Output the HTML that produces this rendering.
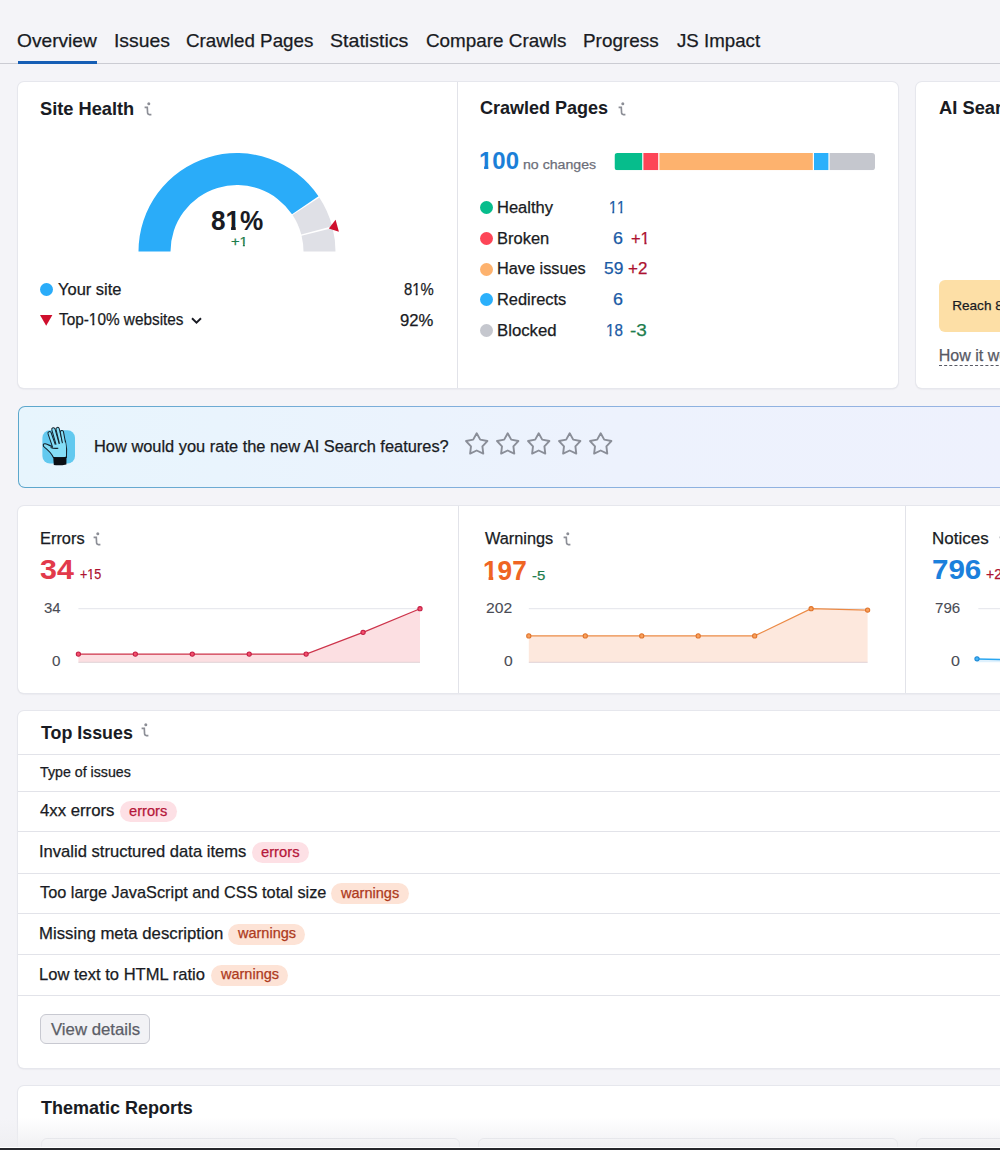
<!DOCTYPE html><html><head><meta charset="utf-8"><style>
*{margin:0;padding:0;box-sizing:border-box}
html,body{width:1000px;height:1150px;overflow:hidden;background:#f4f4f8;font-family:"Liberation Sans",sans-serif;color:#191b23}
.t{position:absolute;white-space:nowrap;line-height:1;-webkit-text-stroke:0.25px currentColor}
.a{position:absolute}
.o1{display:inline-block;clip-path:polygon(0 -1em,100% -1em,100% 0.745em,0.345em 0.745em,0.345em 2em,0.245em 2em,0.245em 0.745em,0 0.745em)}
.o1b{display:inline-block;clip-path:polygon(0 -1em,100% -1em,100% 0.728em,0.376em 0.728em,0.376em 2em,0.227em 2em,0.227em 0.728em,0 0.728em)}
.card{position:absolute;background:#fff;border-radius:6px;box-shadow:0 0 0 1px #e6e7ed,0 1px 2px rgba(25,27,35,.12)}
.hl{position:absolute;height:1px;background:#e2e3e9}
.vl{position:absolute;width:1px;background:#e2e3e9}
.badge{position:absolute;height:21px;border-radius:11px;font-size:14.4px;line-height:21px;text-align:center;white-space:nowrap}
</style></head><body>
<div class="t" style="top:32px;font-size:18.6px;color:#191b23;left:17.10px;transform:scaleX(1.0302);transform-origin:0 0;">Overview</div>
<div class="t" style="top:32px;font-size:18.6px;color:#191b23;left:113.62px;transform:scaleX(1.0395);transform-origin:0 0;">Issues</div>
<div class="t" style="top:32px;font-size:18.6px;color:#191b23;left:186.06px;transform:scaleX(1.0102);transform-origin:0 0;">Crawled Pages</div>
<div class="t" style="top:32px;font-size:18.6px;color:#191b23;left:330.12px;transform:scaleX(1.0533);transform-origin:0 0;">Statistics</div>
<div class="t" style="top:32px;font-size:18.6px;color:#191b23;left:425.66px;transform:scaleX(1.0139);transform-origin:0 0;">Compare Crawls</div>
<div class="t" style="top:32px;font-size:18.6px;color:#191b23;left:583.05px;transform:scaleX(1.0160);transform-origin:0 0;">Progress</div>
<div class="t" style="top:32px;font-size:18.6px;color:#191b23;left:676.72px;transform:scaleX(1.0050);transform-origin:0 0;">JS Impact</div>
<div class="a" style="left:0;top:63px;width:1000px;height:1px;background:#cbccd3"></div>
<div class="a" style="left:18px;top:61px;width:79px;height:3px;background:#155eb5"></div>
<div class="card" style="left:18px;top:82px;width:880px;height:306px"></div>
<div class="vl" style="left:457px;top:82px;height:306px"></div>
<div class="t" style="top:100px;font-size:18.6px;color:#191b23;font-weight:700;-webkit-text-stroke:0.05px currentColor;left:39.79px;transform:scaleX(0.9804);transform-origin:0 0;">Site Health</div>
<svg class="a" style="left:143.5px;top:101.5px" width="9" height="14" viewBox="0 0 9 14"><circle cx="4.8" cy="1.8" r="1.5" fill="#8c8e96"/><path d="M0.6 5.4H3.3L3.6 11.2Q3.8 12.6 5.3 12.6H7.4" fill="none" stroke="#8c8e96" stroke-width="1.65"/></svg>
<svg class="a" style="left:0;top:0" width="460" height="390" viewBox="0 0 460 390"><path d="M138.50 251.60A98.5 98.5 0 0 1 318.47 196.23L292.00 214.22A66.5 66.5 0 0 0 170.50 251.60Z" fill="#2aacf9"/><path d="M319.33 197.52A98.5 98.5 0 0 1 332.17 226.21L301.25 234.46A66.5 66.5 0 0 0 292.58 215.09Z" fill="#dfe0e6"/><path d="M332.63 228.00A98.5 98.5 0 0 1 335.50 251.60L303.50 251.60A66.5 66.5 0 0 0 301.56 235.67Z" fill="#dfe0e6"/><polygon points="328.8,228.6 335.6,219.8 338.9,231.8" fill="#cf0f2d"/></svg>
<div class="t" style="top:206px;font-size:28.5px;color:#191b23;font-weight:700;-webkit-text-stroke:0.05px currentColor;left:211.19px;transform:scaleX(0.9169);transform-origin:0 0;">8<span style="display:inline-block;clip-path:polygon(0 -1em,100% -1em,100% 0.707em,0.39em 0.707em,0.39em 2em,0.212em 2em,0.212em 0.707em,0 0.707em)">1</span>%</div>
<div class="t" style="top:235px;font-size:13px;color:#1d7d4d;left:230.90px;transform:scaleX(1.1253);transform-origin:0 0;">+<span style="display:inline-block;clip-path:polygon(0 -1em,100% -1em,100% 0.698em,0.362em 0.698em,0.362em 2em,0.228em 2em,0.228em 0.698em,0 0.698em)">1</span></div>
<div class="a" style="left:40px;top:283.2px;width:12.9px;height:12.9px;border-radius:50%;background:#2aacf9"></div>
<div class="t" style="top:282px;font-size:16px;color:#191b23;left:57.94px;transform:scaleX(1.0296);transform-origin:0 0;">Your site</div>
<div class="t" style="top:281px;font-size:16.5px;color:#191b23;left:403.86px;transform:scaleX(0.9014);transform-origin:0 0;">8<span style="display:inline-block;clip-path:polygon(0 -1em,100% -1em,100% 0.716em,0.362em 0.716em,0.362em 2em,0.228em 2em,0.228em 0.716em,0 0.716em)">1</span>%</div>
<svg class="a" style="left:40.3px;top:315.1px" width="12.4" height="10.8" viewBox="0 0 12.4 10.8"><polygon points="0,0 12.4,0 6.2,10.8" fill="#cf0f2d"/></svg>
<div class="t" style="top:312px;font-size:16px;color:#191b23;left:58.66px;transform:scaleX(0.9588);transform-origin:0 0;">Top-<span style="display:inline-block;clip-path:polygon(0 -1em,100% -1em,100% 0.678em,0.362em 0.678em,0.362em 2em,0.228em 2em,0.228em 0.678em,0 0.678em)">1</span>0% websites</div>
<svg class="a" style="left:190px;top:314px" width="13" height="12" viewBox="0 0 13 12"><path d="M2 4.2L6.5 8.6L11 4.2" fill="none" stroke="#191b23" stroke-width="1.9"/></svg>
<div class="t" style="top:312px;font-size:16.5px;color:#191b23;left:400.33px;transform:scaleX(1.0101);transform-origin:0 0;">92%</div>
<div class="t" style="top:99px;font-size:18.6px;color:#191b23;font-weight:700;-webkit-text-stroke:0.05px currentColor;left:480.36px;transform:scaleX(0.9686);transform-origin:0 0;">Crawled Pages</div>
<svg class="a" style="left:618.3px;top:101.5px" width="9" height="14" viewBox="0 0 9 14"><circle cx="4.8" cy="1.8" r="1.5" fill="#8c8e96"/><path d="M0.6 5.4H3.3L3.6 11.2Q3.8 12.6 5.3 12.6H7.4" fill="none" stroke="#8c8e96" stroke-width="1.65"/></svg>
<div class="t" style="top:150px;font-size:23.4px;color:#1b7fd8;font-weight:700;-webkit-text-stroke:0.05px currentColor;left:478.87px;transform:scaleX(1.0245);transform-origin:0 0;"><span style="display:inline-block;clip-path:polygon(0 -1em,100% -1em,100% 0.669em,0.39em 0.669em,0.39em 2em,0.212em 2em,0.212em 0.669em,0 0.669em)">1</span>00</div>
<div class="t" style="top:158px;font-size:13.7px;color:#6c6e79;left:523.27px;transform:scaleX(1.0325);transform-origin:0 0;">no changes</div>
<svg class="a" style="left:0;top:0" width="900" height="200" viewBox="0 0 900 200"><clipPath id="bc"><rect x="614.5" y="153" width="260.5" height="17.2" rx="3"/></clipPath><g clip-path="url(#bc)"><rect x="614.5" y="153" width="27.70" height="17.2" fill="#06bd8c"/><rect x="643.4" y="153" width="14.80" height="17.2" fill="#fd4557"/><rect x="659.4" y="153" width="153.40" height="17.2" fill="#fdb26e"/><rect x="814" y="153" width="14.40" height="17.2" fill="#2bb0fb"/><rect x="829.6" y="153" width="45.40" height="17.2" fill="#c5c7ce"/></g></svg>
<div class="a" style="left:480.2px;top:200.90px;width:13px;height:13px;border-radius:50%;background:#06bd8c"></div>
<div class="t" style="top:200px;font-size:15.8px;color:#191b23;left:497.45px;transform:scaleX(1.0450);transform-origin:0 0;">Healthy</div>
<div class="t" style="top:200px;font-size:16.6px;color:#1a5aa5;left:609.41px;transform:scaleX(0.8744);transform-origin:0 0;"><span style="display:inline-block;clip-path:polygon(0 -1em,100% -1em,100% 0.651em,0.362em 0.651em,0.362em 2em,0.228em 2em,0.228em 0.651em,0 0.651em)">1</span><span style="display:inline-block;clip-path:polygon(0 -1em,100% -1em,100% 0.651em,0.362em 0.651em,0.362em 2em,0.228em 2em,0.228em 0.651em,0 0.651em)">1</span></div>
<div class="a" style="left:480.2px;top:231.70px;width:13px;height:13px;border-radius:50%;background:#fd4557"></div>
<div class="t" style="top:231px;font-size:15.8px;color:#191b23;left:497.45px;transform:scaleX(1.0430);transform-origin:0 0;">Broken</div>
<div class="t" style="top:231px;font-size:16.6px;color:#1a5aa5;left:613.20px;transform:scaleX(1.0799);transform-origin:0 0;">6</div>
<div class="t" style="top:231px;font-size:16.6px;color:#ad1230;left:631.01px;transform:scaleX(0.9914);transform-origin:0 0;">+<span style="display:inline-block;clip-path:polygon(0 -1em,100% -1em,100% 0.651em,0.362em 0.651em,0.362em 2em,0.228em 2em,0.228em 0.651em,0 0.651em)">1</span></div>
<div class="a" style="left:480.2px;top:262.50px;width:13px;height:13px;border-radius:50%;background:#fdb26e"></div>
<div class="t" style="top:261px;font-size:15.8px;color:#191b23;left:497.46px;transform:scaleX(1.0309);transform-origin:0 0;">Have issues</div>
<div class="t" style="top:261px;font-size:16.6px;color:#1a5aa5;left:603.91px;transform:scaleX(1.0461);transform-origin:0 0;">59</div>
<div class="t" style="top:261px;font-size:16.6px;color:#ad1230;left:627.68px;transform:scaleX(1.0233);transform-origin:0 0;">+2</div>
<div class="a" style="left:480.2px;top:293.30px;width:13px;height:13px;border-radius:50%;background:#2bb0fb"></div>
<div class="t" style="top:292px;font-size:15.8px;color:#191b23;left:497.45px;transform:scaleX(1.0389);transform-origin:0 0;">Redirects</div>
<div class="t" style="top:292px;font-size:16.6px;color:#1a5aa5;left:613.20px;transform:scaleX(1.0799);transform-origin:0 0;">6</div>
<div class="a" style="left:480.2px;top:324.10px;width:13px;height:13px;border-radius:50%;background:#c5c7ce"></div>
<div class="t" style="top:323px;font-size:15.8px;color:#191b23;left:497.42px;transform:scaleX(1.0613);transform-origin:0 0;">Blocked</div>
<div class="t" style="top:323px;font-size:16.6px;color:#1a5aa5;left:606.14px;transform:scaleX(0.9163);transform-origin:0 0;"><span style="display:inline-block;clip-path:polygon(0 -1em,100% -1em,100% 0.651em,0.362em 0.651em,0.362em 2em,0.228em 2em,0.228em 0.651em,0 0.651em)">1</span>8</div>
<div class="t" style="top:323px;font-size:16.6px;color:#1d7d4d;left:630.17px;transform:scaleX(1.1417);transform-origin:0 0;">-3</div>
<div class="card" style="left:915.5px;top:82px;width:120px;height:306px"></div>
<div class="t" style="top:99px;font-size:18.3px;color:#191b23;font-weight:700;-webkit-text-stroke:0.05px currentColor;left:939.10px;">AI Search</div>
<div class="a" style="left:938.6px;top:280px;width:100px;height:52px;border-radius:6px;background:#fddfa6"></div>
<div class="t" style="top:299px;font-size:13.6px;color:#191b23;left:952.20px;">Reach 80%</div>
<div class="t" style="top:348px;font-size:16px;color:#575964;left:938.80px;">How it works</div>
<div class="a" style="left:938.8px;top:365px;width:70px;height:0;border-top:1px dashed #575964"></div>
<div class="a" style="left:18px;top:406px;width:1000px;height:82px;border:1px solid transparent;border-radius:7px;background:linear-gradient(90deg,#e7f5fd,#edf2fd 60%,#eef1fd) padding-box,linear-gradient(90deg,#5ca7cc,#86b0de 50%,#9ab4e3) border-box"></div>
<svg class="a" style="left:36px;top:422px" width="44" height="46" viewBox="0 0 44 46">
<rect x="6.4" y="8.3" width="32.6" height="33.2" rx="7.5" fill="#62c9ef"/>
<path d="M17.4 35.5 C15.5 31.5 12 28 8.6 25.4 C6.6 24 6.9 21.4 9.2 21.8 C11.6 22.3 14 23.8 16.4 24.6 L16.6 21.5 L29.4 19 L30.6 27 L30.4 35.5 Z" fill="#84def7" stroke="#15222c" stroke-width="1.1" stroke-linejoin="round"/>
<g stroke-linecap="round">
<line x1="13.6" y1="11.3" x2="18" y2="24" stroke="#15222c" stroke-width="4.3"/><line x1="13.6" y1="11.3" x2="18" y2="24" stroke="#84def7" stroke-width="2.3"/>
<line x1="17.4" y1="7.4" x2="21.6" y2="22" stroke="#15222c" stroke-width="4.3"/><line x1="17.4" y1="7.4" x2="21.6" y2="22" stroke="#84def7" stroke-width="2.3"/>
<line x1="21.6" y1="7" x2="25" y2="21" stroke="#15222c" stroke-width="4.3"/><line x1="21.6" y1="7" x2="25" y2="21" stroke="#84def7" stroke-width="2.3"/>
<line x1="25.9" y1="10" x2="28" y2="21" stroke="#15222c" stroke-width="4.1"/><line x1="25.9" y1="10" x2="28" y2="21" stroke="#84def7" stroke-width="2.1"/>
</g>
<path d="M16.9 23.2 L29.5 20.6 L30 27 L29.9 34.8 L17.8 34.8 L17 26 Z" fill="#84def7"/>
<path d="M14.6 25.4 C 17 26.4 19.5 26.6 22.3 26.2" fill="none" stroke="#15222c" stroke-width="1.1"/>
<path d="M17.2 34.8 C 21.5 36 26 36 30.5 34.4 L 30.4 42.4 C 26 43.4 21.5 43.5 17.8 43 Z" fill="#0b0f14"/>
</svg>
<div class="t" style="top:438px;font-size:16.3px;color:#191b23;left:93.95px;transform:scaleX(1.0076);transform-origin:0 0;">How would you rate the new AI Search features?</div>
<svg class="a" style="left:0;top:0" width="1000" height="500"><polygon points="476.70,433.30 480.23,439.65 487.35,441.04 482.41,446.35 483.28,453.56 476.70,450.50 470.12,453.56 470.99,446.35 466.05,441.04 473.17,439.65" fill="none" stroke="#8a8e98" stroke-width="1.9" stroke-linejoin="round"/><polygon points="507.70,433.30 511.23,439.65 518.35,441.04 513.41,446.35 514.28,453.56 507.70,450.50 501.12,453.56 501.99,446.35 497.05,441.04 504.17,439.65" fill="none" stroke="#8a8e98" stroke-width="1.9" stroke-linejoin="round"/><polygon points="538.70,433.30 542.23,439.65 549.35,441.04 544.41,446.35 545.28,453.56 538.70,450.50 532.12,453.56 532.99,446.35 528.05,441.04 535.17,439.65" fill="none" stroke="#8a8e98" stroke-width="1.9" stroke-linejoin="round"/><polygon points="569.70,433.30 573.23,439.65 580.35,441.04 575.41,446.35 576.28,453.56 569.70,450.50 563.12,453.56 563.99,446.35 559.05,441.04 566.17,439.65" fill="none" stroke="#8a8e98" stroke-width="1.9" stroke-linejoin="round"/><polygon points="600.70,433.30 604.23,439.65 611.35,441.04 606.41,446.35 607.28,453.56 600.70,450.50 594.12,453.56 594.99,446.35 590.05,441.04 597.17,439.65" fill="none" stroke="#8a8e98" stroke-width="1.9" stroke-linejoin="round"/></svg>
<div class="card" style="left:18px;top:505.5px;width:1000px;height:187px"></div>
<div class="vl" style="left:458px;top:505.5px;height:187px"></div>
<div class="vl" style="left:905px;top:505.5px;height:187px"></div>
<svg class="a" style="left:0;top:0" width="1000" height="700"><line x1="78.4" y1="608.7" x2="420" y2="608.7" stroke="#e3e4ea" stroke-width="1"/><polygon points="78.4,662.3 78.40,654.10 135.33,654.10 192.27,654.10 249.20,654.10 306.13,654.10 363.07,632.35 420.00,608.70 420,662.3" fill="#fcdfe2"/><line x1="78.4" y1="662.3" x2="420" y2="662.3" stroke="#e0d3d6" stroke-width="1"/><polyline points="78.40,654.10 135.33,654.10 192.27,654.10 249.20,654.10 306.13,654.10 363.07,632.35 420.00,608.70" fill="none" stroke="#cd344b" stroke-width="1.2"/><circle cx="78.40" cy="654.10" r="2.1" fill="#f4506c" stroke="#c41f45" stroke-width="1.1"/><circle cx="135.33" cy="654.10" r="2.1" fill="#f4506c" stroke="#c41f45" stroke-width="1.1"/><circle cx="192.27" cy="654.10" r="2.1" fill="#f4506c" stroke="#c41f45" stroke-width="1.1"/><circle cx="249.20" cy="654.10" r="2.1" fill="#f4506c" stroke="#c41f45" stroke-width="1.1"/><circle cx="306.13" cy="654.10" r="2.1" fill="#f4506c" stroke="#c41f45" stroke-width="1.1"/><circle cx="363.07" cy="632.35" r="2.1" fill="#f4506c" stroke="#c41f45" stroke-width="1.1"/><circle cx="420.00" cy="608.70" r="2.1" fill="#f4506c" stroke="#c41f45" stroke-width="1.1"/><line x1="528.8" y1="608.7" x2="867.6" y2="608.7" stroke="#e3e4ea" stroke-width="1"/><polygon points="528.8,662.3 528.80,635.90 585.27,635.90 641.73,635.90 698.20,635.90 754.67,635.90 811.13,608.70 867.60,610.03 867.6,662.3" fill="#fde8dd"/><line x1="528.8" y1="662.3" x2="867.6" y2="662.3" stroke="#e0d3d6" stroke-width="1"/><polyline points="528.80,635.90 585.27,635.90 641.73,635.90 698.20,635.90 754.67,635.90 811.13,608.70 867.60,610.03" fill="none" stroke="#ec8a45" stroke-width="1.2"/><circle cx="528.80" cy="635.90" r="2.1" fill="#f8a05c" stroke="#e0742c" stroke-width="1.1"/><circle cx="585.27" cy="635.90" r="2.1" fill="#f8a05c" stroke="#e0742c" stroke-width="1.1"/><circle cx="641.73" cy="635.90" r="2.1" fill="#f8a05c" stroke="#e0742c" stroke-width="1.1"/><circle cx="698.20" cy="635.90" r="2.1" fill="#f8a05c" stroke="#e0742c" stroke-width="1.1"/><circle cx="754.67" cy="635.90" r="2.1" fill="#f8a05c" stroke="#e0742c" stroke-width="1.1"/><circle cx="811.13" cy="608.70" r="2.1" fill="#f8a05c" stroke="#e0742c" stroke-width="1.1"/><circle cx="867.60" cy="610.03" r="2.1" fill="#f8a05c" stroke="#e0742c" stroke-width="1.1"/><line x1="978.3" y1="608.7" x2="1000" y2="608.7" stroke="#e3e4ea"/><polygon points="977,662.3 977,659 1000,659.5 1000,662.3" fill="#dff1fd"/><line x1="977" y1="659" x2="1000" y2="659.5" stroke="#2aa6f0" stroke-width="1.3"/><circle cx="977" cy="658.8" r="2.1" fill="#45b4f7" stroke="#1d8ad6" stroke-width="1.1"/></svg>
<div class="t" style="top:531px;font-size:16.8px;color:#191b23;left:39.56px;transform:scaleX(0.9761);transform-origin:0 0;">Errors</div>
<svg class="a" style="left:93.1px;top:532.2px" width="9" height="14" viewBox="0 0 9 14"><circle cx="4.8" cy="1.8" r="1.5" fill="#8c8e96"/><path d="M0.6 5.4H3.3L3.6 11.2Q3.8 12.6 5.3 12.6H7.4" fill="none" stroke="#8c8e96" stroke-width="1.65"/></svg>
<div class="t" style="top:555px;font-size:28.5px;color:#e23a4b;font-weight:700;-webkit-text-stroke:0.05px currentColor;left:40.13px;transform:scaleX(1.0672);transform-origin:0 0;">34</div>
<div class="t" style="top:567px;font-size:14px;color:#ad1230;left:79.60px;transform:scaleX(0.8979);transform-origin:0 0;">+<span style="display:inline-block;clip-path:polygon(0 -1em,100% -1em,100% 0.714em,0.362em 0.714em,0.362em 2em,0.228em 2em,0.228em 0.714em,0 0.714em)">1</span>5</div>
<div class="t" style="top:601px;font-size:14.8px;color:#4a4c55;left:44.03px;transform:scaleX(1.0087);transform-origin:0 0;-webkit-text-stroke:0.1px #4a4c55;">34</div>
<div class="t" style="top:654px;font-size:14.8px;color:#4a4c55;left:52.31px;transform:scaleX(1.0297);transform-origin:0 0;-webkit-text-stroke:0.1px #4a4c55;">0</div>
<div class="t" style="top:531px;font-size:16.8px;color:#191b23;left:485.43px;transform:scaleX(0.9717);transform-origin:0 0;">Warnings</div>
<svg class="a" style="left:563.3px;top:532.2px" width="9" height="14" viewBox="0 0 9 14"><circle cx="4.8" cy="1.8" r="1.5" fill="#8c8e96"/><path d="M0.6 5.4H3.3L3.6 11.2Q3.8 12.6 5.3 12.6H7.4" fill="none" stroke="#8c8e96" stroke-width="1.65"/></svg>
<div class="t" style="top:556px;font-size:28.5px;color:#ef6523;font-weight:700;-webkit-text-stroke:0.05px currentColor;left:483.22px;transform:scaleX(0.9194);transform-origin:0 0;"><span style="display:inline-block;clip-path:polygon(0 -1em,100% -1em,100% 0.707em,0.39em 0.707em,0.39em 2em,0.212em 2em,0.212em 0.707em,0 0.707em)">1</span>97</div>
<div class="t" style="top:569px;font-size:13.6px;color:#1d7d4d;left:531.84px;transform:scaleX(1.0975);transform-origin:0 0;">-5</div>
<div class="t" style="top:601px;font-size:14.8px;color:#4a4c55;left:486.42px;transform:scaleX(1.0601);transform-origin:0 0;-webkit-text-stroke:0.1px #4a4c55;">202</div>
<div class="t" style="top:654px;font-size:14.8px;color:#4a4c55;left:503.69px;transform:scaleX(1.0579);transform-origin:0 0;-webkit-text-stroke:0.1px #4a4c55;">0</div>
<div class="t" style="top:531px;font-size:16.8px;color:#191b23;left:931.91px;transform:scaleX(1.0124);transform-origin:0 0;">Notices</div>
<svg class="a" style="left:998.5px;top:532.2px" width="9" height="14" viewBox="0 0 9 14"><circle cx="4.8" cy="1.8" r="1.5" fill="#8c8e96"/><path d="M0.6 5.4H3.3L3.6 11.2Q3.8 12.6 5.3 12.6H7.4" fill="none" stroke="#8c8e96" stroke-width="1.65"/></svg>
<div class="t" style="top:555px;font-size:28.5px;color:#1b80dc;font-weight:700;-webkit-text-stroke:0.05px currentColor;left:931.86px;transform:scaleX(1.0365);transform-origin:0 0;">796</div>
<div class="t" style="top:567px;font-size:14px;color:#ad1230;left:986.10px;">+2</div>
<div class="t" style="top:601px;font-size:14.8px;color:#4a4c55;left:934.93px;transform:scaleX(1.0217);transform-origin:0 0;-webkit-text-stroke:0.1px #4a4c55;">796</div>
<div class="t" style="top:654px;font-size:14.8px;color:#4a4c55;left:951.17px;transform:scaleX(1.0862);transform-origin:0 0;-webkit-text-stroke:0.1px #4a4c55;">0</div>
<div class="card" style="left:18px;top:711px;width:1000px;height:356.5px"></div>
<div class="t" style="top:724px;font-size:18.2px;color:#191b23;font-weight:700;-webkit-text-stroke:0.05px currentColor;left:40.60px;transform:scaleX(0.9808);transform-origin:0 0;">Top Issues</div>
<svg class="a" style="left:141.2px;top:723.4px" width="9" height="14" viewBox="0 0 9 14"><circle cx="4.8" cy="1.8" r="1.5" fill="#8c8e96"/><path d="M0.6 5.4H3.3L3.6 11.2Q3.8 12.6 5.3 12.6H7.4" fill="none" stroke="#8c8e96" stroke-width="1.65"/></svg>
<div class="hl" style="left:18px;top:754px;width:982px"></div>
<div class="hl" style="left:18px;top:790.5px;width:982px"></div>
<div class="hl" style="left:18px;top:831.2px;width:982px"></div>
<div class="hl" style="left:18px;top:872.5px;width:982px"></div>
<div class="hl" style="left:18px;top:913.2px;width:982px"></div>
<div class="hl" style="left:18px;top:954.1px;width:982px"></div>
<div class="hl" style="left:18px;top:995px;width:982px"></div>
<div class="t" style="top:766px;font-size:13.8px;color:#191b23;left:40.49px;transform:scaleX(1.0296);transform-origin:0 0;">Type of issues</div>
<div class="t" style="top:803px;font-size:16.6px;color:#191b23;left:40.13px;transform:scaleX(1.0093);transform-origin:0 0;">4xx errors</div>
<div class="a" style="left:120px;top:801.00px;width:57.00px;height:21px;border-radius:10.5px;background:#fde0e5"></div>
<div class="t" style="top:804px;font-size:14.2px;color:#b5173a;left:129.08px;transform:scaleX(1.0342);transform-origin:0 0;">errors</div>
<div class="t" style="top:844px;font-size:16.6px;color:#191b23;left:38.97px;transform:scaleX(0.9991);transform-origin:0 0;">Invalid structured data items</div>
<div class="a" style="left:252.1px;top:841.90px;width:57.30px;height:21px;border-radius:10.5px;background:#fde0e5"></div>
<div class="t" style="top:845px;font-size:14.2px;color:#b5173a;left:260.98px;transform:scaleX(1.0398);transform-origin:0 0;">errors</div>
<div class="t" style="top:885px;font-size:16.6px;color:#191b23;left:40.14px;transform:scaleX(0.9826);transform-origin:0 0;">Too large JavaScript and CSS total size</div>
<div class="a" style="left:331.4px;top:882.80px;width:77.20px;height:21px;border-radius:10.5px;background:#fde3d6"></div>
<div class="t" style="top:886px;font-size:14.2px;color:#ad3a1d;left:341.30px;transform:scaleX(1.0258);transform-origin:0 0;">warnings</div>
<div class="t" style="top:926px;font-size:16.6px;color:#191b23;left:39.13px;transform:scaleX(1.0092);transform-origin:0 0;">Missing meta description</div>
<div class="a" style="left:228.3px;top:923.70px;width:76.80px;height:21px;border-radius:10.5px;background:#fde3d6"></div>
<div class="t" style="top:926px;font-size:14.2px;color:#ad3a1d;left:238.20px;transform:scaleX(1.0223);transform-origin:0 0;">warnings</div>
<div class="t" style="top:967px;font-size:16.6px;color:#191b23;left:39.14px;transform:scaleX(0.9974);transform-origin:0 0;">Low text to HTML ratio</div>
<div class="a" style="left:211.2px;top:964.60px;width:76.50px;height:21px;border-radius:10.5px;background:#fde3d6"></div>
<div class="t" style="top:967px;font-size:14.2px;color:#ad3a1d;left:220.60px;transform:scaleX(1.0223);transform-origin:0 0;">warnings</div>
<div class="a" style="left:40.1px;top:1014.4px;width:109.5px;height:30px;border:1px solid #c8c9d1;border-radius:6px;background:#f2f2f5"></div>
<div class="t" style="top:1021px;font-size:16.5px;color:#5c5e67;left:50.73px;transform:scaleX(1.0151);transform-origin:0 0;">View details</div>
<div class="card" style="left:18px;top:1085.6px;width:1000px;height:100px"></div>
<div class="t" style="top:1099px;font-size:18.6px;color:#191b23;font-weight:700;-webkit-text-stroke:0.05px currentColor;left:40.80px;transform:scaleX(0.9670);transform-origin:0 0;">Thematic Reports</div>
<div class="a" style="left:40.8px;top:1138.4px;width:419px;height:40px;border:1px solid #dcdde3;border-radius:6px"></div>
<div class="a" style="left:478px;top:1138.4px;width:420px;height:40px;border:1px solid #dcdde3;border-radius:6px"></div>
<div class="a" style="left:916px;top:1138.4px;width:420px;height:40px;border:1px solid #dcdde3;border-radius:6px"></div>
<div class="a" style="left:0;top:1118px;width:1000px;height:29px;background:linear-gradient(rgba(240,240,243,0),rgba(238,238,241,.85))"></div>
<div class="a" style="left:0;top:1146.5px;width:1000px;height:1px;background:#fff"></div>
<div class="a" style="left:0;top:1147.5px;width:1000px;height:3px;background:#26272c"></div>
</body></html>
